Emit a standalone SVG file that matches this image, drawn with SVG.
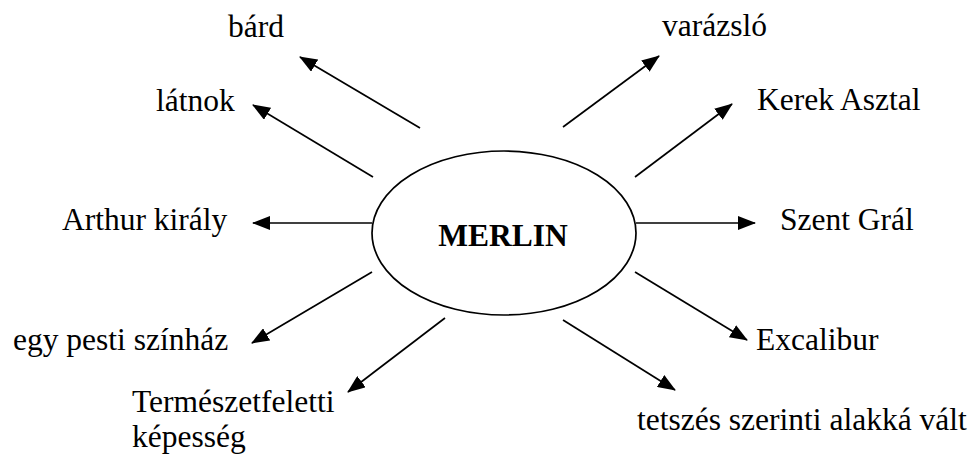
<svg xmlns="http://www.w3.org/2000/svg" width="973" height="463" viewBox="0 0 973 463">
<style>
text{font-family:"Liberation Serif","Times New Roman",serif;font-size:31.5px;fill:#000}
.b{font-weight:bold}
.c line{stroke:#000;stroke-width:1.7;marker-end:url(#ah)}
</style>
<defs>
<marker id="ah" viewBox="0 0 18 14" refX="17" refY="7" markerWidth="18" markerHeight="14" markerUnits="userSpaceOnUse" orient="auto">
<path d="M0,0 L18,7 L0,14 Z" fill="#000"/>
</marker>
</defs>
<rect width="973" height="463" fill="#fff"/>
<g id="merlin">
<ellipse cx="504" cy="233" rx="132" ry="82" fill="none" stroke="#000" stroke-width="1.7"/>
<text class="b" x="503" y="246" text-anchor="middle">MERLIN</text>
</g>
<g class="c" id="connectors">
<line x1="420" y1="128" x2="300" y2="57"/>
<line x1="373" y1="177" x2="253" y2="105"/>
<line x1="563" y1="127" x2="659" y2="56"/>
<line x1="635" y1="177" x2="732" y2="104"/>
<line x1="372" y1="223" x2="253" y2="223"/>
<line x1="636" y1="223" x2="755" y2="223"/>
<line x1="372" y1="272" x2="252" y2="343"/>
<line x1="445" y1="318" x2="348" y2="392"/>
<line x1="635" y1="272" x2="747" y2="340"/>
<line x1="563" y1="320" x2="675" y2="390"/>
</g>
<g id="bard"><text x="228" y="37">bárd</text></g>
<g id="latnok"><text x="156" y="111">látnok</text></g>
<g id="varazslo"><text x="662" y="36">varázsló</text></g>
<g id="kerek"><text x="757" y="110">Kerek Asztal</text></g>
<g id="arthur"><text x="62" y="230">Arthur király</text></g>
<g id="gral"><text x="780" y="230">Szent Grál</text></g>
<g id="szinhaz"><text x="13" y="350">egy pesti színház</text></g>
<g id="kepesseg"><text x="132" y="412">Természetfeletti</text><text x="132" y="447">képesség</text></g>
<g id="excalibur"><text x="756" y="350">Excalibur</text></g>
<g id="alak"><text x="637" y="430">tetszés szerinti alakká vált</text></g>
</svg>
